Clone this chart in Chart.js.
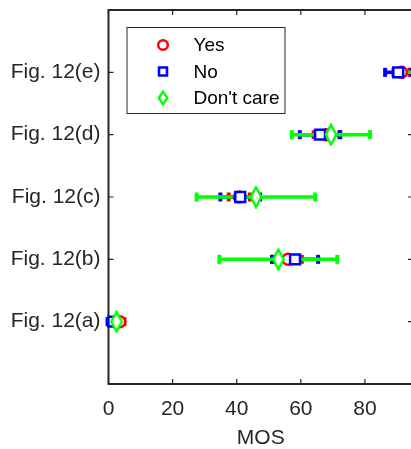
<!DOCTYPE html>
<html>
<head>
<meta charset="utf-8">
<script src="https://cdn.jsdelivr.net/npm/chart.js@4.4.0/dist/chart.umd.min.js"></script>
<style>
html, body { margin: 0; padding: 0; overflow: hidden; background: #fff; }
#wrap { position: relative; width: 413px; height: 449px; }
</style>
</head>
<body>
<div id="wrap"><canvas id="mosChart"></canvas></div>
<script>
// data
const categories = ['Fig. 12(a)', 'Fig. 12(b)', 'Fig. 12(c)', 'Fig. 12(d)', 'Fig. 12(e)'];
const xTicks = [0, 20, 40, 60, 80];
const seriesNames = ['Yes', 'No', "Don't care"];

const yesMean = [3.5, 56, 40.8, 68, 91.4];
const yesErr = [1.5, 4.3, 3.3, 4, 2.5];
const noMean = [1.5, 58.2, 41.1, 66, 90.4];
const noErr = [1.8, 7.2, 6.2, 6.3, 4.1];
const careMean = [2.5, 53, 46, 69.4, 96.5];
const careErr = [1.5, 18.4, 18.5, 12.2, 5];

const FONT = "'Liberation Sans', Arial, Helvetica, sans-serif";
const AXIS = '#262626';

function diamondCanvas(w, h, lw, color) {
    const c = document.createElement('canvas');
    c.width = w;
    c.height = h;
    const g = c.getContext('2d');
    g.beginPath();
    g.moveTo(w / 2, lw / 2 + 0.5);
    g.lineTo(w - lw / 2 - 0.5, h / 2);
    g.lineTo(w / 2, h - lw / 2 - 0.5);
    g.lineTo(lw / 2 + 0.5, h / 2);
    g.closePath();
    g.fillStyle = '#fff';
    g.fill();
    g.strokeStyle = color;
    g.lineWidth = lw;
    g.stroke();
    return c;
}

const groups = [
    { label: seriesNames[0], mean: yesMean, err: yesErr, color: '#ff0000', style: 'circle', radius: 5.5 },
    { label: seriesNames[1], mean: noMean, err: noErr, color: '#0000ff', style: 'rect', radius: 7 },
    { label: seriesNames[2], mean: careMean, err: careErr, color: '#00ff00', style: diamondCanvas(14, 23, 2.5, '#00ff00'), radius: 7 }
];

const datasets = [];
groups.forEach((g, gi) => {
    categories.forEach((c, i) => {
        datasets.push({
            label: g.label + ' ' + c,
            showLine: true,
            data: [
                { x: g.mean[i] - g.err[i], y: i + 1 },
                { x: g.mean[i] + g.err[i], y: i + 1 }
            ],
            borderColor: g.color,
            borderWidth: 3.5,
            pointStyle: 'line',
            pointRotation: 90,
            pointRadius: 4.5,
            pointBorderWidth: 4,
            pointBorderColor: g.color,
            order: 5 - gi,
            clip: false
        });
    });
    datasets.push({
        label: g.label,
        data: categories.map((c, i) => ({ x: g.mean[i], y: i + 1 })),
        pointStyle: g.style,
        pointRadius: g.radius,
        pointBorderWidth: 2.5,
        pointBorderColor: g.color,
        pointBackgroundColor: '#fff',
        order: 2 - gi,
        clip: false
    });
});

// box and inward tick marks, MATLAB style
const axesFrame = {
    id: 'axesFrame',
    beforeDatasetsDraw(chart) {
        const { ctx, chartArea: a, scales } = chart;
        ctx.save();
        ctx.strokeStyle = AXIS;
        ctx.lineWidth = 2;
        ctx.strokeRect(a.left, a.top, a.right - a.left, a.bottom - a.top);
        ctx.lineWidth = 1.2;
        ctx.beginPath();
        xTicks.forEach(v => {
            const px = scales.x.getPixelForValue(v);
            ctx.moveTo(px, a.bottom); ctx.lineTo(px, a.bottom - 5);
            ctx.moveTo(px, a.top); ctx.lineTo(px, a.top + 5);
        });
        categories.forEach((c, i) => {
            const py = scales.y.getPixelForValue(i + 1);
            ctx.moveTo(a.left, py); ctx.lineTo(a.left + 5, py);
            ctx.moveTo(a.right, py); ctx.lineTo(a.right - 5, py);
        });
        ctx.stroke();
        ctx.restore();
    }
};

const boxLegend = {
    id: 'boxLegend',
    afterDraw(chart) {
        const { ctx, chartArea: a } = chart;
        const left = a.left + 18, top = a.top + 17, w = 158, h = 86;
        ctx.save();
        ctx.fillStyle = '#fff';
        ctx.fillRect(left, top, w, h);
        ctx.strokeStyle = AXIS;
        ctx.lineWidth = 1;
        ctx.strokeRect(left + 0.5, top + 0.5, w, h);

        const mx = left + 36.5, tx = left + 67;
        const rows = [top + 18, top + 44.5, top + 71];
        ctx.lineWidth = 2.5;
        // circle
        ctx.strokeStyle = groups[0].color;
        ctx.beginPath();
        ctx.arc(mx, rows[0], 4.8, 0, Math.PI * 2);
        ctx.stroke();
        // square
        ctx.strokeStyle = groups[1].color;
        ctx.strokeRect(mx - 4, rows[1] - 4, 8, 8);
        // diamond
        ctx.drawImage(diamondCanvas(12, 16, 2.3, groups[2].color), mx - 6, rows[2] - 8);

        ctx.fillStyle = '#000';
        ctx.font = '19px ' + FONT;
        ctx.textBaseline = 'middle';
        ctx.textAlign = 'left';
        seriesNames.forEach((s, i) => ctx.fillText(s, tx, rows[i] + 1));
        ctx.restore();
    }
};

new Chart(document.getElementById('mosChart'), {
    type: 'scatter',
    data: { datasets: datasets },
    options: {
        responsive: true,
        maintainAspectRatio: false,
        animation: false,
        events: [],
        layout: { autoPadding: false, padding: { top: 10, right: 0, left: 0, bottom: 0 } },
        plugins: {
            legend: { display: false },
            tooltip: { enabled: false }
        },
        scales: {
            x: {
                type: 'linear',
                min: 0,
                max: 95,
                afterBuildTicks: s => { s.ticks = xTicks.map(v => ({ value: v })); },
                afterFit: s => { s.height = 65; s.paddingLeft = 0; s.paddingRight = 0; },
                grid: { display: false, drawTicks: false },
                border: { display: false },
                ticks: {
                    color: AXIS,
                    padding: 13,
                    maxRotation: 0,
                    font: { family: FONT, size: 21 }
                },
                title: {
                    display: true,
                    text: 'MOS',
                    color: AXIS,
                    padding: { top: 0, bottom: 0 },
                    font: { family: FONT, size: 21, lineHeight: 1 }
                }
            },
            y: {
                type: 'linear',
                min: 0,
                max: 6,
                afterBuildTicks: s => { s.ticks = categories.map((c, i) => ({ value: i + 1 })); },
                afterFit: s => { s.width = 108.5; s.paddingTop = 0; s.paddingBottom = 0; },
                grid: { display: false, drawTicks: false },
                border: { display: false },
                ticks: {
                    color: AXIS,
                    padding: 8,
                    callback: v => categories[v - 1] || '',
                    font: { family: FONT, size: 21 }
                }
            }
        }
    },
    plugins: [axesFrame, boxLegend]
});
</script>
</body>
</html>
